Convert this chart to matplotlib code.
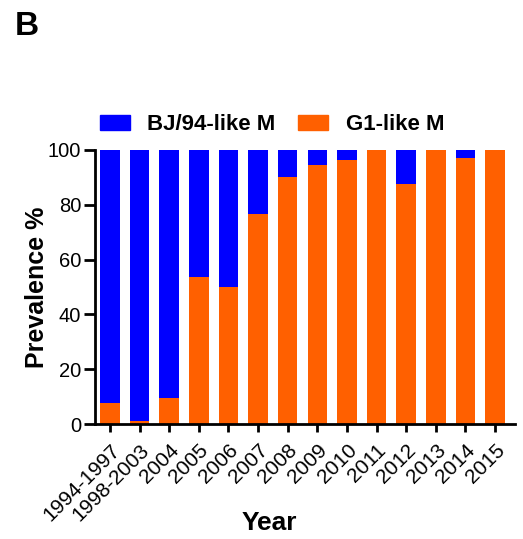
import matplotlib
matplotlib.use("Agg")
import matplotlib.pyplot as plt
import matplotlib.transforms as mtransforms
import numpy as np
from matplotlib.patches import Patch

plt.rcParams['font.family'] = ['Liberation Sans', 'DejaVu Sans']

years = ["1994-1997", "1998-2003", "2004", "2005", "2006", "2007", "2008",
         "2009", "2010", "2011", "2012", "2013", "2014", "2015"]
g1_like = [7.6, 1.1, 9.4, 53.7, 50.0, 76.7, 90.0, 94.3, 96.2, 100, 87.6, 100, 97.1, 100]
bj94_like = [100 - v for v in g1_like]
yticks = [0, 20, 40, 60, 80, 100]

blue = "#0000FF"
orange = "#FF6000"

fig = plt.figure(figsize=(5.23, 5.39), dpi=100)
ax = fig.add_axes([0.182, 0.213, 0.803, 0.509])

x = np.arange(len(years))
ax.bar(x, g1_like, width=0.66, color=orange, zorder=2)
ax.bar(x, bj94_like, bottom=g1_like, width=0.66, color=blue, zorder=2)

ax.set_xlim(-0.5, 13.68)
ax.set_ylim(0, 100)
ax.set_yticks(yticks)
ax.set_yticklabels([str(v) for v in yticks], fontsize=14.5)
ax.set_xticks(x)
ax.set_xticklabels(years, rotation=45, ha='right', rotation_mode='anchor', fontsize=15)

offset = mtransforms.ScaledTranslation(4 / 100, 0, fig.dpi_scale_trans)
for lbl in ax.get_xticklabels():
    lbl.set_transform(lbl.get_transform() + offset)

for s in ['top', 'right']:
    ax.spines[s].set_visible(False)
for s in ['left', 'bottom']:
    ax.spines[s].set_linewidth(2)
ax.tick_params(axis='both', width=2, direction='out')
ax.tick_params(axis='y', length=8, pad=2)
ax.tick_params(axis='x', length=6, pad=6)

ax.set_ylabel("Prevalence %", fontsize=18, fontweight='bold')
ax.yaxis.set_label_coords(-0.11, 0.5)
ax.set_xlabel("Year", fontsize=19, fontweight='bold')
ax.xaxis.set_label_coords(0.414, -0.318)

handles = [Patch(color=blue, label="BJ/94-like M"), Patch(color=orange, label="G1-like M")]
fig.legend(handles=handles, loc='center', bbox_to_anchor=(0.52, 0.769), ncol=2,
           frameon=False, prop={'weight': 'bold', 'size': 16},
           handlelength=1.35, handleheight=0.68, columnspacing=1.0, handletextpad=0.8)

fig.text(0.029, 0.951, "B", fontsize=24, fontweight='bold', va='center', ha='left')

fig.savefig("out.png", dpi=100)
